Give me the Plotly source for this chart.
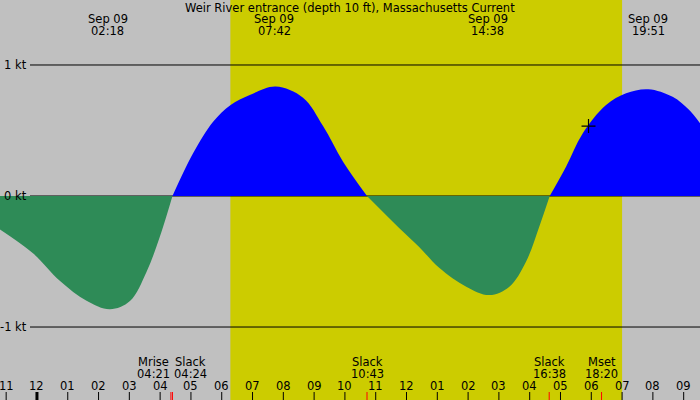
import plotly.graph_objects as go

# ---- data (hours since midnight Sep 09, current in knots) ----
ebb1_t = [-1.2, -0.13, 0.75, 1.61, 2.37, 3.02, 3.56, 3.99, 4.4]
ebb1_v = [-0.255, -0.437, -0.649, -0.8, -0.865, -0.802, -0.578, -0.311, 0.0]
flood1_t = [4.4, 5.07, 5.72, 6.29, 6.91, 7.75, 8.64, 9.29, 9.94, 10.717]
flood1_v = [0.0, 0.326, 0.567, 0.695, 0.771, 0.835, 0.75, 0.534, 0.262, 0.0]
ebb2_t = [10.717, 11.76, 12.41, 13.07, 13.94, 14.69, 15.34, 15.88, 16.31, 16.65]
ebb2_v = [0.0, -0.244, -0.389, -0.55, -0.692, -0.756, -0.692, -0.501, -0.234, 0.0]
flood2_t = [16.65, 17.18, 17.72, 18.48, 19.13, 19.85, 20.64, 21.18, 21.53]
flood2_v = [0.0, 0.224, 0.478, 0.695, 0.784, 0.815, 0.757, 0.656, 0.555]

now_t = [17.91]
now_v = [0.534]

sunrise = 6.28
sunset = 19.0

peak_times = [2.3, 7.7, 14.633, 19.85]
peak_dates = ["Sep 09", "Sep 09", "Sep 09", "Sep 09"]
peak_labels = ["02:18", "07:42", "14:38", "19:51"]

event_times = [4.35, 4.4, 10.717, 16.633, 18.333]
event_names = ["Mrise", "Slack", "Slack", "Slack", "Mset"]
event_labels = ["04:21", "04:24", "10:43", "16:38", "18:20"]
event_shift = [-17, 18, 0, 0, 0]

hour_ticks = list(range(-1, 22))
hour_labels = ["11", "12", "01", "02", "03", "04", "05", "06", "07", "08", "09", "10",
               "11", "12", "01", "02", "03", "04", "05", "06", "07", "08", "09"]

kt_levels = [1, 0, -1]
kt_labels = ["1 kt", "0 kt", "-1 kt"]

title = "Weir River entrance (depth 10 ft), Massachusetts Current"

# ---- figure ----
W, H = 700, 400
FONT = dict(family="DejaVu Sans", size=11.5, color="black")
GREEN = "#2e8b57"
BLUE = "#0000ff"

fig = go.Figure()
for t, v, c in [(ebb1_t, ebb1_v, GREEN), (flood1_t, flood1_v, BLUE),
                (ebb2_t, ebb2_v, GREEN), (flood2_t, flood2_v, BLUE)]:
    fig.add_trace(go.Scatter(x=t, y=v, mode="lines", fill="tozeroy",
                             line=dict(color=c, width=0, shape="spline", smoothing=1.0),
                             fillcolor=c, hoverinfo="skip", showlegend=False))

fig.add_trace(go.Scatter(x=now_t, y=now_v, mode="markers",
                         marker=dict(symbol="cross-thin", size=10,
                                     line=dict(color="black", width=1.2)),
                         showlegend=False, hoverinfo="skip"))

shapes = []
shapes.append(dict(type="rect", xref="x", yref="paper", x0=sunrise, x1=sunset,
                   y0=0, y1=1, fillcolor="#cccc00", line=dict(width=0), layer="below"))
for lv in kt_levels:
    shapes.append(dict(type="line", xref="paper", yref="y", x0=30 / W, x1=1,
                       y0=lv, y1=lv, line=dict(color="black", width=1), layer="below"))
for h in hour_ticks:
    shapes.append(dict(type="line", xref="x", yref="paper", x0=h, x1=h,
                       y0=0, y1=8 / H,
                       line=dict(color="black", width=3 if h == 0 else 1)))
for t in event_times:
    shapes.append(dict(type="line", xref="x", yref="paper", x0=t, x1=t,
                       y0=0, y1=8 / H, line=dict(color="red", width=1)))

ann = []
ann.append(dict(text=title, x=0.5, y=1 - 7.5 / H, xref="paper", yref="paper",
                showarrow=False, font=FONT, xanchor="center", yanchor="middle"))
for t, d, l in zip(peak_times, peak_dates, peak_labels):
    ann.append(dict(text=d, x=t, y=1 - 19.5 / H, xref="x", yref="paper",
                    showarrow=False, font=FONT, xanchor="center", yanchor="middle"))
    ann.append(dict(text=l, x=t, y=1 - 31.5 / H, xref="x", yref="paper",
                    showarrow=False, font=FONT, xanchor="center", yanchor="middle"))
for t, n, l, s in zip(event_times, event_names, event_labels, event_shift):
    ann.append(dict(text=n, x=t, y=1 - 361.5 / H, xref="x", yref="paper", xshift=s,
                    showarrow=False, font=FONT, xanchor="center", yanchor="middle"))
    ann.append(dict(text=l, x=t, y=1 - 373.5 / H, xref="x", yref="paper", xshift=s,
                    showarrow=False, font=FONT, xanchor="center", yanchor="middle"))
for h, l in zip(hour_ticks, hour_labels):
    ann.append(dict(text=l, x=h, y=1 - 385.5 / H, xref="x", yref="paper",
                    showarrow=False, font=FONT, xanchor="center", yanchor="middle"))
for lv, l in zip(kt_levels, kt_labels):
    ann.append(dict(text=l, x=29 / W, y=lv, xref="paper", yref="y",
                    showarrow=False, font=FONT, xanchor="right", yanchor="middle"))

fig.update_layout(
    width=W, height=H, margin=dict(l=0, r=0, t=0, b=0),
    paper_bgcolor="#c0c0c0", plot_bgcolor="#c0c0c0",
    xaxis=dict(range=[-1.2, 21.53], visible=False, fixedrange=True),
    yaxis=dict(range=[-1.557, 1.496], visible=False, fixedrange=True),
    shapes=shapes, annotations=ann, showlegend=False,
)

fig.write_html("out.html", config={"displayModeBar": False},
               post_script="document.body.style.margin='0';document.body.style.overflow='hidden';")
